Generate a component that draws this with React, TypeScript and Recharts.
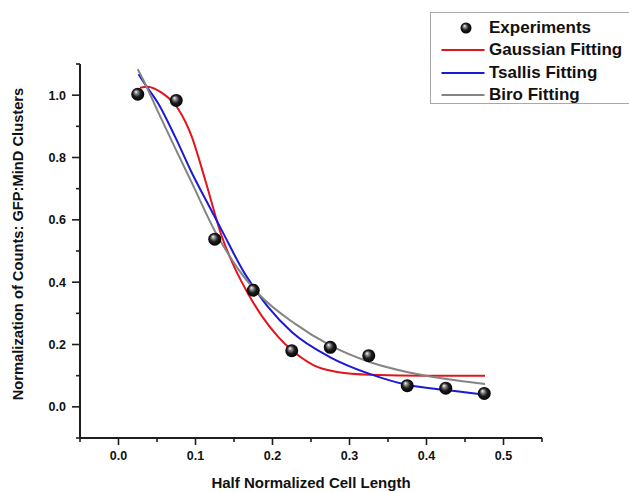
import { ComposedChart, Line, Scatter, XAxis, YAxis, Legend, Label } from "recharts";

const FONT = '"Liberation Sans", Arial, sans-serif';

// experimental points
const expX = [0.025, 0.075, 0.125, 0.175, 0.225, 0.275, 0.325, 0.375, 0.425, 0.475];
const expY = [1.003, 0.983, 0.538, 0.374, 0.18, 0.191, 0.164, 0.068, 0.06, 0.043];

// fitted curves
const gaussX = [0.028, 0.037, 0.056, 0.078, 0.095, 0.1126, 0.134, 0.152, 0.169, 0.186, 0.208, 0.225, 0.253, 0.284, 0.327, 0.4, 0.476];
const gaussY = [1.024, 1.027, 1.008, 0.954, 0.868, 0.728, 0.548, 0.44, 0.36, 0.292, 0.223, 0.182, 0.134, 0.112, 0.103, 0.1, 0.1];

const tsallisX = [0.026, 0.0347, 0.052, 0.0736, 0.095, 0.119, 0.134, 0.1646, 0.175, 0.195, 0.225, 0.275, 0.327, 0.376, 0.426, 0.476];
const tsallisY = [1.067, 1.034, 0.972, 0.866, 0.752, 0.638, 0.567, 0.425, 0.386, 0.318, 0.24, 0.159, 0.105, 0.07, 0.054, 0.039];

const biroX = [0.025, 0.0347, 0.052, 0.0736, 0.095, 0.1256, 0.141, 0.156, 0.182, 0.2295, 0.275, 0.327, 0.376, 0.426, 0.476];
const biroY = [1.083, 1.036, 0.943, 0.83, 0.72, 0.562, 0.497, 0.44, 0.362, 0.266, 0.197, 0.143, 0.111, 0.089, 0.073];

const xTicks = [-0.05, 0, 0.05, 0.1, 0.15, 0.2, 0.25, 0.3, 0.35, 0.4, 0.45, 0.5, 0.55];
const yTicks = [-0.1, 0, 0.1, 0.2, 0.3, 0.4, 0.5, 0.6, 0.7, 0.8, 0.9, 1.0, 1.1];

const SERIES = [
  { name: "Experiments", color: "#000000", kind: "ball" },
  { name: "Gaussian Fitting", color: "#e3141c", kind: "line" },
  { name: "Tsallis Fitting", color: "#1a1ad6", kind: "line" },
  { name: "Biro Fitting", color: "#848484", kind: "line" },
];

const zip = (xs: number[], ys: number[]) => xs.map((x, i) => ({ x, y: ys[i] }));
const expData = zip(expX, expY);
const gaussData = zip(gaussX, gaussY);
const tsallisData = zip(tsallisX, tsallisY);
const biroData = zip(biroX, biroY);

const AXIS = "#1e1e1e";

function Ball({ cx, cy, id = "ball", r = 6.5 }: any) {
  return (
    <g>
      <defs>
        <radialGradient id={id} cx="0.5" cy="0.5" r="0.55" fx="0.35" fy="0.3">
          <stop offset="0" stopColor="#ffffff" />
          <stop offset="0.2" stopColor="#9a9a9a" />
          <stop offset="0.55" stopColor="#1c1c1c" />
          <stop offset="1" stopColor="#000000" />
        </radialGradient>
      </defs>
      <circle cx={cx} cy={cy} r={r} fill={`url(#${id})`} />
    </g>
  );
}

function XTick({ x, y, payload }: any) {
  const v = payload.value;
  const major = Math.abs(v * 10 - Math.round(v * 10)) < 1e-6 && v > -0.01 && v < 0.51;
  return (
    <g>
      <line x1={x} x2={x} y1={y} y2={y + (major ? 7 : 4)} stroke={AXIS} strokeWidth={1.6} />
      {major && (
        <text x={x} y={y + 22} textAnchor="middle" fontFamily={FONT} fontWeight="bold" fontSize={12.5} fill="#111">
          {v.toFixed(1)}
        </text>
      )}
    </g>
  );
}

function YTick({ x, y, payload }: any) {
  const v = payload.value;
  const k = Math.round(v * 10);
  const major = k % 2 === 0 && k >= 0 && k <= 10;
  return (
    <g>
      <line x1={x} x2={x - (major ? 8 : 4)} y1={y} y2={y} stroke={AXIS} strokeWidth={1.6} />
      {major && (
        <text x={x - 14} y={y + 4.5} textAnchor="end" fontFamily={FONT} fontWeight="bold" fontSize={12.5} fill="#111">
          {v.toFixed(1)}
        </text>
      )}
    </g>
  );
}

function LegendBox() {
  return (
    <div
      style={{
        width: 201,
        height: 92,
        border: "1px solid #a8a8a8",
        boxSizing: "border-box",
        paddingTop: 4,
        background: "#fff",
        fontFamily: FONT,
      }}
    >
      {SERIES.map((s) => (
        <div key={s.name} style={{ display: "flex", alignItems: "center", height: 22.3 }}>
          <svg width={58} height={22} style={{ flex: "none" }}>
            {s.kind === "ball" ? (
              <Ball cx={35} cy={11} r={5.5} id="legball" />
            ) : (
              <line x1={10.5} x2={53.5} y1={11} y2={11} stroke={s.color} strokeWidth={2} />
            )}
          </svg>
          <span style={{ fontSize: 17, fontWeight: "bold", color: "#111", whiteSpace: "nowrap" }}>{s.name}</span>
        </div>
      ))}
    </div>
  );
}

export default function App() {
  return (
    <div style={{ position: "absolute", left: 0, top: 0, width: 629, height: 492, background: "#fff", overflow: "hidden" }}>
      <ComposedChart width={629} height={492} margin={{ top: 64, right: 87, bottom: 0, left: 0 }}>
        <XAxis
          type="number"
          dataKey="x"
          domain={[-0.05, 0.55]}
          ticks={xTicks}
          interval={0}
          height={54}
          tickSize={0}
          tickMargin={0}
          tickLine={false}
          tick={<XTick />}
          axisLine={{ stroke: AXIS, strokeWidth: 2 }}
          allowDataOverflow
        >
          <Label
            value="Half Normalized Cell Length"
            position="insideBottom"
            offset={4}
            style={{ fontFamily: FONT, fontWeight: "bold", fontSize: 15, fill: "#111" }}
          />
        </XAxis>
        <YAxis
          type="number"
          dataKey="y"
          domain={[-0.1, 1.1]}
          ticks={yTicks}
          interval={0}
          width={80}
          tickSize={0}
          tickMargin={0}
          tickLine={false}
          tick={<YTick />}
          axisLine={{ stroke: AXIS, strokeWidth: 2 }}
          allowDataOverflow
        >
          <Label
            content={({ viewBox }: any) => (
              <text
                x={0}
                y={0}
                transform={`translate(23, ${viewBox.y + viewBox.height / 2 - 7}) rotate(-90)`}
                textAnchor="middle"
                fontFamily={FONT}
                fontWeight="bold"
                fontSize={14.7}
                fill="#111"
              >
                Normalization of Counts: GFP:MinD Clusters
              </text>
            )}
          />
        </YAxis>
        <Line data={gaussData} dataKey="y" name="Gaussian Fitting" type="monotone" stroke={SERIES[1].color} strokeWidth={2} dot={false} isAnimationActive={false} />
        <Line data={tsallisData} dataKey="y" name="Tsallis Fitting" type="monotone" stroke={SERIES[2].color} strokeWidth={2} dot={false} isAnimationActive={false} />
        <Line data={biroData} dataKey="y" name="Biro Fitting" type="monotone" stroke={SERIES[3].color} strokeWidth={2} dot={false} isAnimationActive={false} />
        <Scatter data={expData} dataKey="y" name="Experiments" fill="#000" shape={(p: any) => <Ball cx={p.cx} cy={p.cy} />} isAnimationActive={false} />
        <Legend
          layout="vertical"
          align="center"
          verticalAlign="middle"
          content={() => <LegendBox />}
          wrapperStyle={{ left: 430, top: 12, width: 201, height: 92 }}
        />
      </ComposedChart>
    </div>
  );
}
